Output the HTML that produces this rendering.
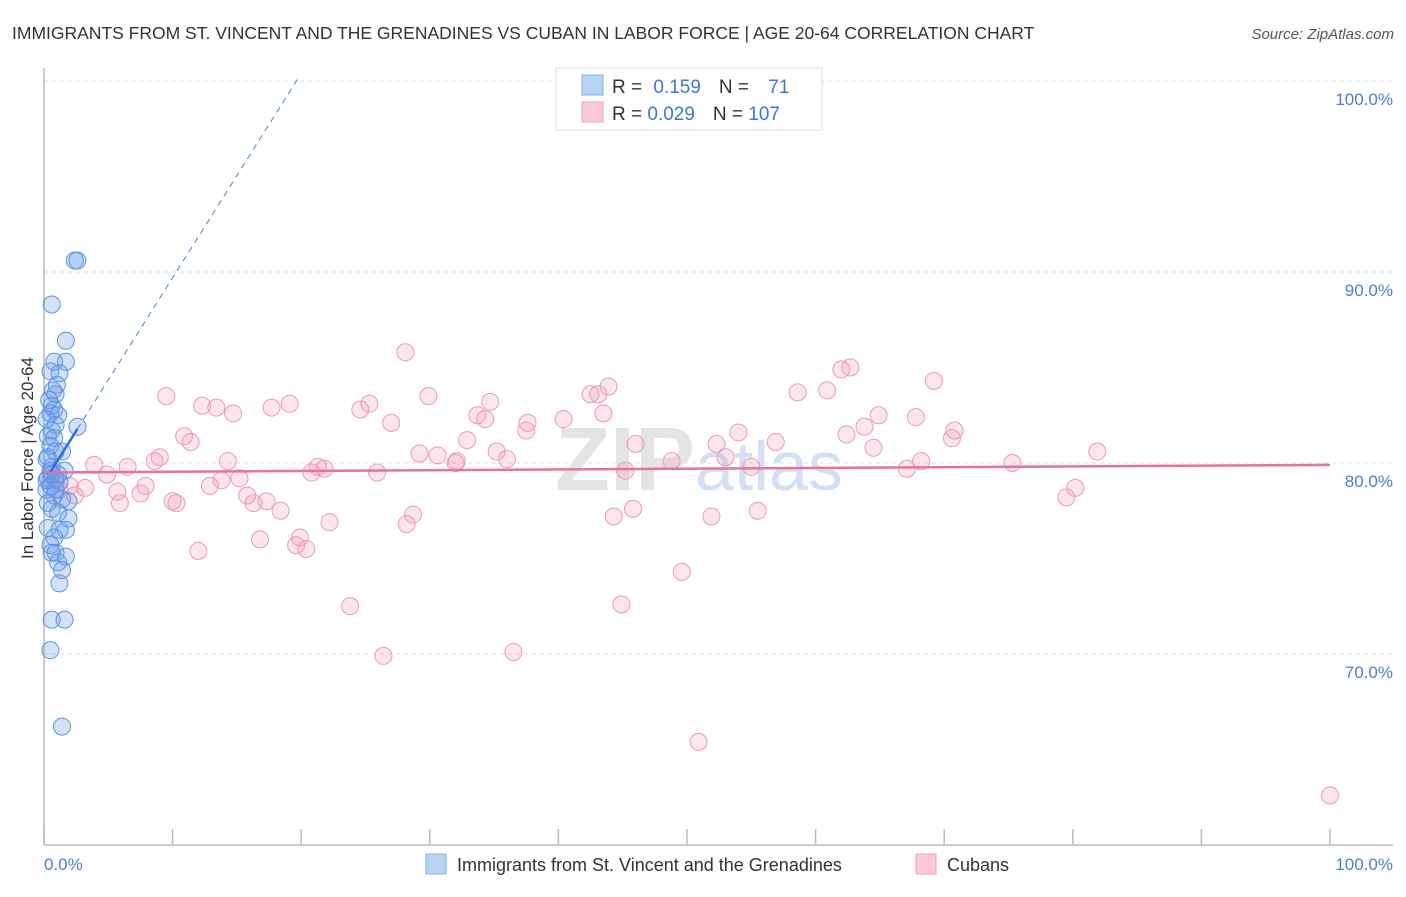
<!DOCTYPE html>
<html><head><meta charset="utf-8"><style>
body{margin:0;background:#fff;font-family:"Liberation Sans",sans-serif;}
svg text{font-family:"Liberation Sans",sans-serif;}
</style></head><body>
<svg id="chart" width="1406" height="892" viewBox="0 0 1406 892">
<text x="12" y="39" font-size="17.5" fill="#333">IMMIGRANTS FROM ST. VINCENT AND THE GRENADINES VS CUBAN IN LABOR FORCE | AGE 20-64 CORRELATION CHART</text>
<text x="1394" y="39" font-size="15" fill="#555" text-anchor="end" font-style="italic">Source: ZipAtlas.com</text>
<g id="grid"></g>
<text x="555" y="490" font-size="90" fill="#e4e4e4" font-family="Liberation Serif" font-weight="bold">ZIP<tspan fill="#d3e0f3" font-family="Liberation Sans" font-weight="normal" font-size="70">atlas</tspan></text>
<line x1="44" y1="68" x2="44" y2="845" stroke="#bbb" stroke-width="1.5"/>
<line x1="44" y1="845" x2="1393" y2="845" stroke="#bbb" stroke-width="1.5"/>
<g id="ticks"></g>
<g id="points"></g>
<g id="trends"></g>
<text transform="translate(33,458) rotate(-90)" font-size="17" fill="#333" text-anchor="middle">In Labor Force | Age 20-64</text>
<text x="44" y="870" font-size="17" fill="#4a7fd4">0.0%</text>
<text x="1393" y="870" font-size="17" fill="#4a7fd4" text-anchor="end">100.0%</text>
<g>
<rect x="556" y="68" width="266" height="62" fill="#fff" stroke="#ddd"/>
<rect x="582" y="75" width="21" height="20" fill="#b8d3f6" stroke="#86aee8"/>
<rect x="582" y="102" width="21" height="20" fill="#fbc8d6" stroke="#f0a0b8"/>
<text x="612" y="93" font-size="19" fill="#333">R = <tspan fill="#3a78d6" dx="6">0.159</tspan><tspan fill="#333" dx="18">N = </tspan><tspan fill="#3a78d6" dx="14">71</tspan></text>
<text x="612" y="120" font-size="19" fill="#333">R = <tspan fill="#3a78d6">0.029</tspan><tspan fill="#333" dx="18">N = </tspan><tspan fill="#3a78d6">107</tspan></text>
</g>
<g>
<rect x="426" y="854" width="20" height="20" fill="#b8d3f6" stroke="#86aee8"/>
<text x="457" y="871" font-size="18" fill="#333">Immigrants from St. Vincent and the Grenadines</text>
<rect x="916" y="854" width="20" height="20" fill="#fbc8d6" stroke="#f0a0b8"/>
<text x="947" y="871" font-size="18" fill="#333">Cubans</text>
</g>
</svg>
<script>
const yTicks=[100,90,80,70];
const yTickLabels=["100.0%","90.0%","80.0%","70.0%"];
const xTicks=[0,10,20,30,40,50,60,70,80,90,100];
const blueX=[2.6,2.4,0.6,1.7,1.7,0.8,1.2,0.5,0.9,0.6,0.8,0.5,1.1,0.9,0.6,2.6,0.3,0.8,0.5,1.4,0.9,0.3,1.6,0.6,0.3,0.9,1.2,0.5,0.2,0.8,1.4,1.9,0.3,0.6,1.1,1.9,0.3,1.2,1.7,0.8,0.5,0.9,1.7,0.6,1.1,1.4,1.2,0.6,1.6,0.5,1.4,0.2,0.5,0.6,0.2,1.1,0.9,0.2,0.4,0.7,1.0];
const blueY=[90.6,90.6,88.3,86.4,85.3,85.3,84.7,84.8,83.6,83.0,82.8,82.6,82.5,82.0,81.7,81.9,81.4,81.3,80.9,80.6,80.6,80.3,79.6,79.4,79.2,79.1,79.0,78.8,78.6,78.3,78.1,78.0,77.9,77.6,77.4,77.1,76.6,76.5,76.5,76.1,75.7,75.3,75.1,75.3,74.8,74.4,73.7,71.8,71.8,70.2,66.2,79.1,79.6,79.8,80.2,79.4,78.6,82.3,83.3,83.8,84.1];
const pinkX=[9.5,4.9,3.9,6.5,5.7,5.9,7.5,7.9,8.6,9.0,10.0,10.3,10.9,11.4,12.0,12.3,12.9,13.4,13.8,14.3,14.7,15.2,15.8,16.3,16.8,17.3,17.7,18.4,19.1,19.6,19.9,20.4,20.8,21.3,21.8,22.2,23.8,24.6,25.3,25.9,26.4,27.0,28.1,28.2,28.7,29.2,29.9,30.6,32.0,32.1,32.9,33.7,34.3,34.7,35.2,36.0,36.5,37.5,37.6,40.4,42.5,43.1,43.5,43.9,44.3,44.9,45.2,45.8,46.0,48.8,49.6,50.9,51.9,52.3,53.0,54.0,55.0,55.5,56.9,58.6,60.9,62.0,62.7,62.4,63.8,64.5,64.9,67.1,67.8,68.2,69.2,70.6,70.8,75.3,79.5,80.2,81.9,100,1.2,2.0,2.4,3.2,0.5,0.9];
const pinkY=[83.5,79.4,79.9,79.8,78.5,77.9,78.4,78.8,80.1,80.3,78.0,77.9,81.4,81.1,75.4,83.0,78.8,82.9,79.1,80.1,82.6,79.2,78.3,77.9,76.0,78.0,82.9,77.5,83.1,75.7,76.1,75.5,79.5,79.8,79.7,76.9,72.5,82.8,83.1,79.5,69.9,82.1,85.8,76.8,77.3,80.5,83.5,80.4,80.0,80.1,81.2,82.5,82.3,83.2,80.6,80.2,70.1,81.7,82.1,82.3,83.6,83.6,82.6,84.0,77.2,72.6,79.6,77.6,81.0,80.1,74.3,65.4,77.2,81.0,80.3,81.6,79.8,77.5,81.1,83.7,83.8,84.9,85.0,81.5,81.9,80.8,82.5,79.7,82.4,80.1,84.3,81.3,81.7,80.0,78.2,78.7,80.6,62.6,78.6,78.8,78.3,78.7,79.1,79.2];
const blueTrend=[79.0,1.07];
const pinkTrend=[79.5,0.004];
const NS='http://www.w3.org/2000/svg';
const sx=v=>44+v*12.86;
const sy=v=>463-(v-80)*19.1;
function mk(tag,attrs,parent){const e=document.createElementNS(NS,tag);for(const k in attrs)e.setAttribute(k,attrs[k]);parent.appendChild(e);return e;}
const grid=document.getElementById('grid');
yTicks.forEach((t,i)=>{
 const l=mk('line',{x1:44,x2:1393,y1:sy(t),y2:sy(t),stroke:'#ddd','stroke-dasharray':'4,4'},grid);
 
 
 const tx=mk('text',{x:1393,y:sy(t)+24,'font-size':17,fill:'#4a7fd4','text-anchor':'end'},grid);
 tx.textContent=yTickLabels[i];
 
 
});
const tk=document.getElementById('ticks');
xTicks.forEach(t=>{
 const l=mk('line',{x1:sx(t),x2:sx(t),y1:829,y2:845,stroke:'#bbb','stroke-width':1.5},tk);
 
 
});
const pts=document.getElementById('points');
pinkX.forEach((x,i)=>{
 const c=mk('circle',{cx:sx(x),cy:sy(pinkY[i]),r:8.5,fill:'rgba(243,150,178,0.25)',stroke:'#ee9ab4','stroke-width':1},pts);
 
 
});
blueX.forEach((x,i)=>{
 const c=mk('circle',{cx:sx(x),cy:sy(blueY[i]),r:8.5,fill:'rgba(110,160,235,0.3)',stroke:'#5f93e0','stroke-width':1},pts);
 
 
});
const tr=document.getElementById('trends');
const pl=mk('line',{x1:sx(0),y1:sy(pinkTrend[0]),x2:sx(100),y2:sy(pinkTrend[0]+pinkTrend[1]*100),stroke:'#e8739a','stroke-width':2.5},tr);


const bd=mk('line',{x1:sx(2.6),y1:sy(blueTrend[0]+blueTrend[1]*2.6),x2:sx(19.7),y2:sy(blueTrend[0]+blueTrend[1]*19.7),stroke:'#4a80d8','stroke-width':1,'stroke-dasharray':'6,5'},tr);


const bl=mk('line',{x1:sx(0.5),y1:sy(blueTrend[0]+blueTrend[1]*0.5),x2:sx(2.6),y2:sy(blueTrend[0]+blueTrend[1]*2.6),stroke:'#2d6fd6','stroke-width':2.5},tr);


</script>
</body></html>
